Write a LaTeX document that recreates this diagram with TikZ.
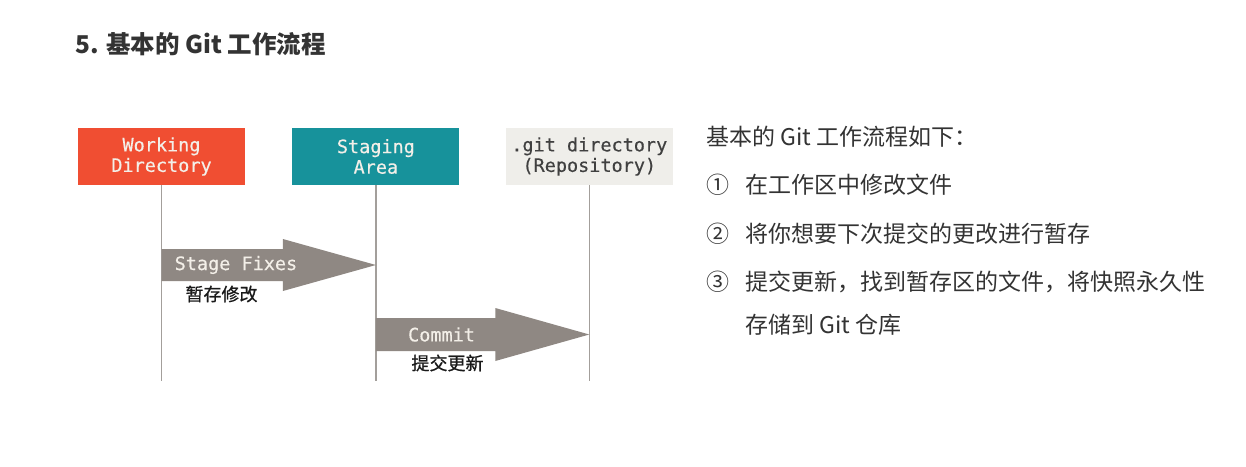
\documentclass[tikz,border=0pt]{standalone}
\usepackage{fontspec}
\newfontfamily\cjk{Noto Sans CJK SC}
\newfontfamily\cjknote[FakeBold=0.8]{Noto Sans CJK SC}
\newfontfamily\mono[FakeBold=0.4]{DejaVu Sans Mono}
\usetikzlibrary{calc, positioning}
\definecolor{wdred}{HTML}{F04E32}
\definecolor{stageteal}{HTML}{17929B}
\definecolor{repogray}{HTML}{EFEEEA}
\definecolor{flowgray}{HTML}{8F8883}
\definecolor{linegray}{HTML}{A39F9B}
\definecolor{boxtext}{HTML}{F3EFE8}
\definecolor{inktext}{HTML}{333333}

\begin{document}
\begin{tikzpicture}[
    x=1pt, y=-1pt,
    % Define styles
    area/.style={rectangle, minimum width=167pt, minimum height=57pt, inner sep=0pt, align=center, text=boxtext, font=\mono\fontsize{18.5}{20.5}\selectfont},
    lifeline/.style={draw=linegray, line width=1.6pt},
    flow/.style={fill=flowgray},
    flowtext/.style={anchor=west, text=boxtext, inner sep=0pt, font=\mono\fontsize{18.5}{20.5}\selectfont},
    note/.style={inner sep=0pt, text=black!90, font=\cjknote\fontsize{18}{22}\selectfont},
    body/.style={anchor=west, inner sep=0pt, text=inktext, font=\cjk\fontsize{23}{28}\selectfont},
    ]
    \useasboundingbox (0,0) rectangle (1246,466);

    % Title
    \node[anchor=west, inner sep=0pt, text=inktext, font=\cjk\bfseries\fontsize{24.5}{30}\selectfont] (title) at (75,44) {5. 基本的 Git 工作流程};

    % Areas
    \node[area, fill=wdred] (wd) at (161.5,156.5) {Working\\Directory};
    \node[area, fill=stageteal, right=47pt of wd] (stage) {Staging\\Area};
    \node[area, fill=repogray, text=black!75, right=46pt of stage] (repo) {.git directory\\(Repository)};

    % Lifelines
    \coordinate (bottom) at (0,381);
    \draw[lifeline] (wd.south) -- (wd.south |- bottom);
    \draw[lifeline] (stage.south) -- (stage.south |- bottom);
    \draw[lifeline] (repo.south) -- (repo.south |- bottom);

    % Flow arrows
    \coordinate (row1) at (0,265);
    \coordinate (row2) at (0,334.5);
    \coordinate (fixA) at (wd.south |- row1);
    \coordinate (fixB) at (stage.south |- row1);
    \coordinate (comA) at (stage.south |- row2);
    \coordinate (comB) at (repo.south |- row2);

    \fill[flow] ($(fixA)+(0,-16)$) -- ($(fixB)+(-93,-16)$) -- ($(fixB)+(-93,-26)$) -- (fixB)
        -- ($(fixB)+(-93,26)$) -- ($(fixB)+(-93,16)$) -- ($(fixA)+(0,16)$) -- cycle;
    \fill[flow] ($(comA)+(0,-16.5)$) -- ($(comB)+(-94,-16.5)$) -- ($(comB)+(-94,-26.5)$) -- (comB)
        -- ($(comB)+(-94,26.5)$) -- ($(comB)+(-94,16.5)$) -- ($(comA)+(0,16.5)$) -- cycle;

    \node[flowtext] (fixlbl) at ($(fixA)+(13,0)$) {Stage Fixes};
    \node[flowtext] (comlbl) at ($(comA)+(32,0)$) {Commit};

    % Chinese notes under the arrows
    \node[note] (fixnote) at (221.5,294) {暂存修改};
    \node[note] (comnote) at (447.5,363) {提交更新};

    % Steps on the right
    \node[body] (intro) at (706,137) {基本的 Git 工作流程如下：};
    \node[body] (n1) at (706,185) {①};
    \node[body] (s1) at (745,185) {在工作区中修改文件};
    \node[body] (n2) at (706,234) {②};
    \node[body] (s2) at (745,234) {将你想要下次提交的更改进行暂存};
    \node[body] (n3) at (706,282) {③};
    \node[body] (s3) at (745,282) {提交更新，找到暂存区的文件，将快照永久性};
    \node[body] (s3b) at (745,325) {存储到 Git 仓库};

\end{tikzpicture}
\end{document}
